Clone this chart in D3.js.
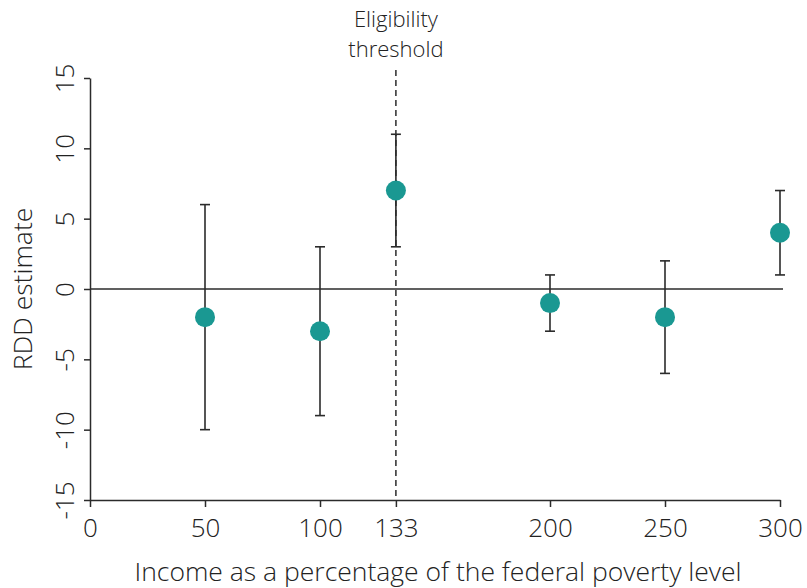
<!DOCTYPE html>
<html>
<head>
<meta charset="utf-8">
<script src="https://cdn.jsdelivr.net/npm/d3@7"></script>
<style>
  body { margin: 0; background: #fff; }
  text { font-family: "Open Sans", Lato, sans-serif; font-weight: 300; fill: #222; }
</style>
</head>
<body>
<script>
// data
var incomes   = [50, 100, 133, 200, 250, 300];
var estimates = [-2, -3, 7, -1, -2, 4];
var lowerCI   = [-10, -9, 3, -3, -6, 1];
var upperCI   = [6, 3, 11, 1, 2, 7];
var xTicks    = [0, 50, 100, 133, 200, 250, 300];
var yTicks    = [-15, -10, -5, 0, 5, 10, 15];
var threshold = 133;

var W = 807, H = 588;
var margin = {top: 78, right: 27, bottom: 88, left: 90};
var width = W - margin.left - margin.right,
    height = H - margin.top - margin.bottom;

var svg = d3.select("body").append("svg")
  .attr("width", W).attr("height", H);
var g = svg.append("g")
  .attr("transform", "translate(" + margin.left + "," + margin.top + ")");

var xScale = d3.scaleLinear().domain([0, 300]).range([0, width]);
var yScale = d3.scaleLinear().domain([-15, 15]).range([height, 0]);

var ink = "#2b2b2b";
var fmt = function(d) { return String(d); }; // plain hyphen minus like the original

// x axis
var xAxis = g.append("g")
  .attr("transform", "translate(0," + height + ")")
  .call(d3.axisBottom(xScale).tickValues(xTicks).tickFormat(fmt).tickSize(7).tickSizeOuter(0).tickPadding(12));
xAxis.selectAll("text").style("font-size", "26px");

// y axis, labels rotated
var yAxis = g.append("g")
  .call(d3.axisLeft(yScale).tickValues(yTicks).tickFormat(fmt).tickSize(6).tickSizeOuter(0));
yAxis.selectAll("text")
  .style("font-size", "26px")
  .attr("text-anchor", "middle")
  .attr("dy", null)
  .attr("x", null)
  .attr("transform", "translate(-16,0) rotate(-90)");

svg.selectAll(".domain, .tick line").attr("stroke", ink).attr("stroke-width", 1.5);
svg.selectAll(".tick text").style("fill", "#222");

// zero line
g.append("line")
  .attr("x1", 0).attr("x2", width + 3)
  .attr("y1", yScale(0)).attr("y2", yScale(0))
  .attr("stroke", ink).attr("stroke-width", 1.5);

// threshold
g.append("line")
  .attr("x1", xScale(threshold)).attr("x2", xScale(threshold))
  .attr("y1", -8).attr("y2", height)
  .attr("stroke", ink).attr("stroke-width", 1.5)
  .attr("stroke-dasharray", "6,4");
g.append("text")
  .attr("x", xScale(threshold)).attr("y", -51)
  .attr("text-anchor", "middle").style("font-size", "22px")
  .text("Eligibility");
g.append("text")
  .attr("x", xScale(threshold)).attr("y", -21)
  .attr("text-anchor", "middle").style("font-size", "22px")
  .text("threshold");

// error bars and points
var pts = incomes.map(function(d, i) {
  return {x: d, est: estimates[i], lo: lowerCI[i], hi: upperCI[i]};
});

var bars = g.append("g");
pts.forEach(function(d) {
  var cx = xScale(d.x);
  bars.append("line")
    .attr("x1", cx).attr("x2", cx)
    .attr("y1", yScale(d.lo)).attr("y2", yScale(d.hi))
    .attr("stroke", ink).attr("stroke-width", 1.6);
  [d.lo, d.hi].forEach(function(v) {
    bars.append("line")
      .attr("x1", cx - 5).attr("x2", cx + 5)
      .attr("y1", yScale(v)).attr("y2", yScale(v))
      .attr("stroke", ink).attr("stroke-width", 1.6);
  });
});

g.append("g").selectAll("circle")
  .data(pts).enter().append("circle")
  .attr("cx", function(d) { return xScale(d.x); })
  .attr("cy", function(d) { return yScale(d.est); })
  .attr("r", 10)
  .attr("fill", "#1a9892");

// axis titles
svg.append("text")
  .attr("x", margin.left + width / 2 + 3).attr("y", 581)
  .attr("text-anchor", "middle").style("font-size", "26.5px")
  .text("Income as a percentage of the federal poverty level");

svg.append("text")
  .attr("transform", "translate(32," + (margin.top + yScale(0)) + ") rotate(-90)")
  .attr("text-anchor", "middle").style("font-size", "26.5px")
  .text("RDD estimate");
</script>
</body>
</html>
